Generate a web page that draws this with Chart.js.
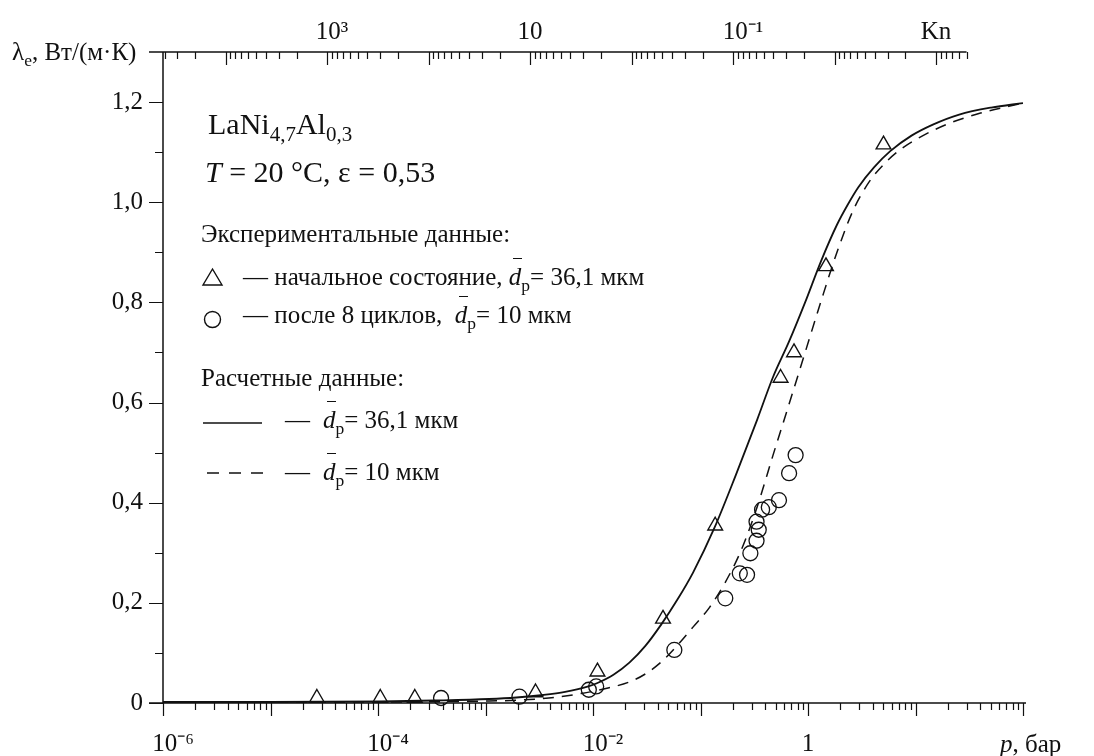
<!DOCTYPE html>
<html>
<head>
<meta charset="utf-8">
<script src="https://cdn.jsdelivr.net/npm/chart.js@4.4.1/dist/chart.umd.min.js"></script>
<style>
  html, body { margin: 0; padding: 0; background: #fff; }
  #wrap { position: relative; width: 1094px; height: 756px; font-family: "Liberation Serif", "DejaVu Serif", serif; color: #111; }
  #chart { position: absolute; left: 0; top: 0; }
  .t { position: absolute; white-space: nowrap; line-height: 1; font-size: 25px; }
  .big { font-size: 30px; }
  sub { font-size: 70%; vertical-align: -0.32em; line-height: 0; }
  .d { position: relative; font-style: italic; }
  .d::before { content: ''; position: absolute; left: 4px; width: 9px; top: -5px; border-top: 1.3px solid #111; }
  #marks { position: absolute; left: 0; top: 0; pointer-events: none; }
</style>
</head>
<body>
<div id="wrap">
  <canvas id="chart" width="1094" height="756"></canvas>
  <svg id="marks" width="1094" height="756">
    <polygon points="212.5,269 222,285 203,285" fill="none" stroke="#111" stroke-width="1.4"/>
    <circle cx="212.5" cy="319.5" r="8" fill="none" stroke="#111" stroke-width="1.4"/>
    <line x1="203" y1="423" x2="262" y2="423" stroke="#111" stroke-width="1.6"/>
    <line x1="207" y1="473" x2="263" y2="473" stroke="#111" stroke-width="1.4" stroke-dasharray="12 10"/>
  </svg>
  <div class="t" style="left:12px; top:39px;">λ<sub>e</sub>, Вт/(м·К)</div>
  <div class="t" style="left:1000px; top:731px;"><i>p</i>, бар</div>
  <div class="t big" style="left:208px; top:109px;">LaNi<sub>4,7</sub>Al<sub>0,3</sub></div>
  <div class="t big" style="left:205px; top:157px;"><i>T</i> = 20 °C, ε = 0,53</div>
  <div class="t" style="left:201px; top:221px;">Экспериментальные данные:</div>
  <div class="t" style="left:243px; top:264px;">— начальное состояние, <span class="d">d</span><sub>p</sub>= 36,1 мкм</div>
  <div class="t" style="left:243px; top:302px;">— после 8 циклов,&nbsp; <span class="d">d</span><sub>p</sub>= 10 мкм</div>
  <div class="t" style="left:201px; top:365px;">Расчетные данные:</div>
  <div class="t" style="left:285px; top:407px;">—</div>
  <div class="t" style="left:323px; top:407px;"><span class="d">d</span><sub>p</sub>= 36,1 мкм</div>
  <div class="t" style="left:285px; top:459px;">—</div>
  <div class="t" style="left:323px; top:459px;"><span class="d">d</span><sub>p</sub>= 10 мкм</div>
</div>
<script>
// p, бар  /  λe, Вт/(м·К)
// эксперимент: начальное состояние, dp = 36,1 мкм
const triP = [2.70e-5, 1.05e-4, 2.20e-4, 2.92e-3, 0.0110, 0.0448, 0.137, 0.556, 0.741, 1.47, 5.04];
const triL = [0.010, 0.010, 0.010, 0.021, 0.0625, 0.168, 0.354, 0.649, 0.70, 0.872, 1.115];

// эксперимент: после 8 циклов, dp = 10 мкм
const circP = [3.86e-4, 2.07e-3, 9.14e-3, 0.0107, 0.0571, 0.170, 0.232, 0.271, 0.291, 0.332, 0.348, 0.332, 0.374, 0.432, 0.537, 0.667, 0.767];
const circL = [0.010, 0.0126, 0.0265, 0.033, 0.106, 0.209, 0.259, 0.256, 0.299, 0.324, 0.346, 0.362, 0.386, 0.391, 0.405, 0.459, 0.495];

// расчет, dp = 36,1 мкм (сплошная)
const solidP = [1e-6, 1e-5, 1.04e-4, 3.37e-4, 1.08e-3, 1.94e-3, 3.46e-3, 5.5e-3, 8.73e-3, 0.011, 0.0155, 0.0218, 0.0307, 0.0432, 0.0608, 0.0855,
  0.135, 0.213, 0.337, 0.473, 0.667, 0.94, 1.32, 1.86, 2.34, 2.94, 4.13, 5.82, 9.18, 14.5, 25.5, 50.6, 100];
const solidL = [0.002, 0.002, 0.003, 0.005, 0.008, 0.011, 0.016, 0.022, 0.032, 0.040, 0.0565, 0.0805, 0.114, 0.157, 0.206, 0.261,
  0.350, 0.455, 0.566, 0.651, 0.722, 0.800, 0.882, 0.955, 0.995, 1.030, 1.070, 1.102, 1.133, 1.155, 1.175, 1.189, 1.198];

// расчет, dp = 10 мкм (штриховая)
const dashP = [1e-6, 1e-5, 1.04e-4, 1.08e-3, 2.17e-3, 3.88e-3, 7.78e-3, 0.0138, 0.0218, 0.0307, 0.0432, 0.0608, 0.0855, 0.1205, 0.169, 0.239,
  0.337, 0.473, 0.667, 0.94, 1.32, 1.86, 2.62, 3.69, 5.19, 7.31, 11.5, 20.3, 40.3, 100];
const dashL = [0.001, 0.0015, 0.002, 0.004, 0.006, 0.010, 0.019, 0.030, 0.042, 0.058, 0.082, 0.115, 0.152, 0.190, 0.240, 0.305,
  0.392, 0.495, 0.597, 0.700, 0.802, 0.900, 0.983, 1.040, 1.078, 1.106, 1.132, 1.157, 1.178, 1.198];

// подписи осей
const yMajor = [0, 0.2, 0.4, 0.6, 0.8, 1.0, 1.2];
const yLabels = ['0', '0,2', '0,4', '0,6', '0,8', '1,0', '1,2'];
const yMinor = [0.1, 0.3, 0.5, 0.7, 0.9, 1.1];
const pLabelExp = [-6, -4, -2, 0];
const pLabels = ['\u2009\u2009\u2009\u200910\u207B\u2076', '\u2009\u2009\u2009\u200910\u207B\u2074', '\u2009\u2009\u2009\u200910\u207B\u00B2', '1'];
const knLabelExp = [3, 1, -1, -3];
const knLabels = ['\u2009\u200910\u00B3', '10', '\u2009\u2009\u2009\u200910\u207B\u00B9', 'Kn'];

const knMin = 1.39e-4, knMax = 4.14e4, knLast = 5e-4;

function pts(xs, ys) { return xs.map((x, i) => ({ x: x, y: ys[i] })); }

function isDecade(v) {
  const e = Math.log10(v);
  return Math.abs(e - Math.round(e)) < 1e-6;
}

function logTicks(lo, hi, from, to) {
  const out = [];
  for (let e = lo; e <= hi; e++) {
    const base = Math.pow(10, e);
    for (let m = 1; m <= 9; m++) {
      const v = m * base;
      if (v >= from * 0.999 && v <= to * 1.001) out.push({ value: v });
    }
  }
  return out;
}

const tickFont = { family: 'Liberation Serif', size: 25 };

const axisLines = {
  id: 'axisLines',
  beforeDatasetsDraw(chart) {
    const { ctx, chartArea: a, scales } = chart;
    ctx.save();
    ctx.strokeStyle = '#111';
    ctx.lineWidth = 1.5;
    ctx.beginPath();
    ctx.moveTo(a.left, a.top); ctx.lineTo(a.left, a.bottom);
    ctx.moveTo(a.left - 14, a.bottom); ctx.lineTo(a.right + 3, a.bottom);
    ctx.moveTo(a.left - 14, a.top); ctx.lineTo(scales.kn.getPixelForValue(knLast), a.top);
    ctx.stroke();
    ctx.lineWidth = 1.2;
    ctx.beginPath();
    scales.x.ticks.forEach(t => {
      const px = Math.round(scales.x.getPixelForValue(t.value)) + 0.5;
      ctx.moveTo(px, a.bottom); ctx.lineTo(px, a.bottom + (isDecade(t.value) ? 13 : 7));
    });
    scales.kn.ticks.forEach(t => {
      const px = Math.round(scales.kn.getPixelForValue(t.value)) + 0.5;
      ctx.moveTo(px, a.top); ctx.lineTo(px, a.top + (isDecade(t.value) ? 13 : 7));
    });
    scales.y.ticks.forEach(t => {
      const py = Math.round(scales.y.getPixelForValue(t.value)) + 0.5;
      const major = yMajor.some(v => Math.abs(v - t.value) < 1e-9);
      ctx.moveTo(a.left - (major ? 14 : 8), py); ctx.lineTo(a.left, py);
    });
    ctx.stroke();
    ctx.restore();
  }
};

new Chart(document.getElementById('chart'), {
  type: 'scatter',
  data: {
    datasets: [
      {
        data: pts(solidP, solidL),
        showLine: true,
        borderColor: '#111',
        borderWidth: 1.8,
        pointRadius: 0,
        cubicInterpolationMode: 'monotone'
      },
      {
        data: pts(dashP, dashL),
        showLine: true,
        borderColor: '#111',
        borderWidth: 1.5,
        borderDash: [11, 8],
        pointRadius: 0,
        cubicInterpolationMode: 'monotone'
      },
      {
        data: pts(triP, triL),
        pointStyle: 'triangle',
        pointRadius: 8.5,
        borderColor: '#111',
        borderWidth: 1.4,
        backgroundColor: 'rgba(0,0,0,0)',
        clip: 10
      },
      {
        data: pts(circP, circL),
        pointStyle: 'circle',
        pointRadius: 7.5,
        borderColor: '#111',
        borderWidth: 1.3,
        backgroundColor: 'rgba(0,0,0,0)',
        clip: 10
      }
    ]
  },
  options: {
    responsive: false,
    animation: false,
    events: [],
    layout: { padding: { left: 0, right: 71, top: 0, bottom: 0 } },
    plugins: { legend: { display: false }, tooltip: { enabled: false } },
    scales: {
      x: {
        type: 'logarithmic',
        position: 'bottom',
        min: 1e-6,
        max: 1e2,
        grid: { display: false, drawTicks: false },
        border: { display: false },
        afterBuildTicks: s => { s.ticks = logTicks(-6, 2, 1e-6, 1e2); },
        afterFit: s => { s.height = 53; },
        ticks: {
          autoSkip: false,
          maxRotation: 0,
          padding: 26,
          color: '#111',
          font: tickFont,
          callback: v => {
            if (!isDecade(v)) return '';
            const k = pLabelExp.indexOf(Math.round(Math.log10(v)));
            return k >= 0 ? pLabels[k] : '';
          }
        }
      },
      kn: {
        type: 'logarithmic',
        position: 'top',
        reverse: true,
        min: knMin,
        max: knMax,
        grid: { display: false, drawTicks: false },
        border: { display: false },
        afterBuildTicks: s => { s.ticks = logTicks(-4, 4, knLast, knMax); },
        afterFit: s => { s.height = 52; },
        ticks: {
          autoSkip: false,
          maxRotation: 0,
          padding: 5,
          color: '#111',
          font: tickFont,
          callback: v => {
            if (!isDecade(v)) return '';
            const k = knLabelExp.indexOf(Math.round(Math.log10(v)));
            return k >= 0 ? knLabels[k] : '';
          }
        }
      },
      y: {
        type: 'linear',
        min: 0,
        max: 1.3,
        grid: { display: false, drawTicks: false },
        border: { display: false },
        afterBuildTicks: s => { s.ticks = yMajor.concat(yMinor).sort((a, b) => a - b).map(v => ({ value: v })); },
        afterFit: s => { s.width = 163; },
        ticks: {
          autoSkip: false,
          padding: 20,
          color: '#111',
          font: tickFont,
          callback: v => {
            const k = yMajor.findIndex(m => Math.abs(m - v) < 1e-9);
            return k >= 0 ? yLabels[k] : '';
          }
        }
      }
    }
  },
  plugins: [axisLines]
});
</script>
</body>
</html>
